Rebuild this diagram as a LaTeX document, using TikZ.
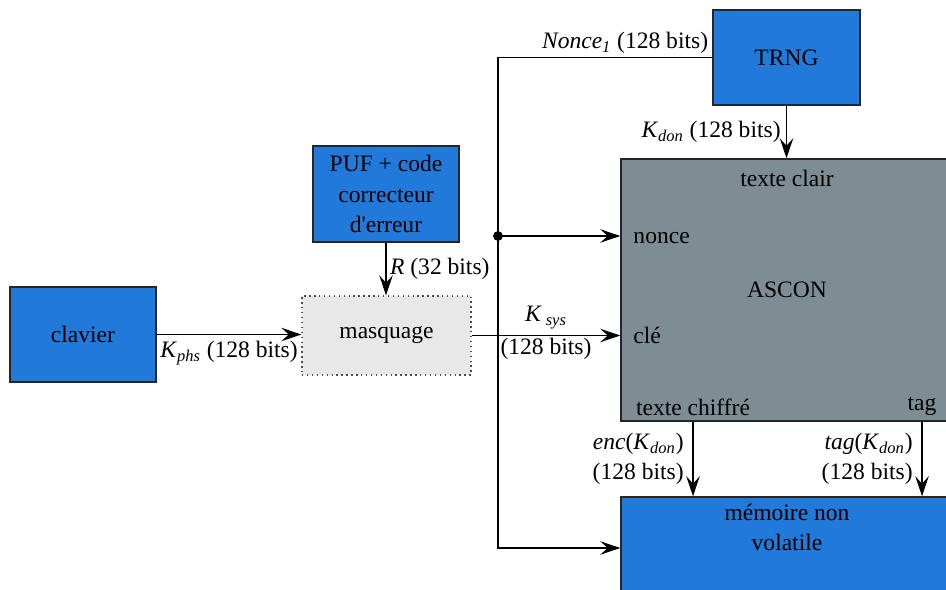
\documentclass[tikz,border=0pt]{standalone}
\usepackage{fontspec}
\setmainfont{Liberation Serif}
\newfontfamily\policeschema{Liberation Serif}
\usetikzlibrary{arrows.meta,positioning}
\definecolor{bleu}{RGB}{33,121,217}
\definecolor{grisascon}{RGB}{126,141,147}
\definecolor{grismasque}{RGB}{232,232,232}
\newcommand{\indice}[1]{\textsubscript{\textit{#1}}}
\tikzset{
  bloc/.style = {draw = black!85, line width = 0.9pt, fill = bleu, align = center},
  fleche/.style = {-{Stealth[length = 4mm, width = 2.7mm, inset = 1.5mm]}, line width = 0.7pt}
}
\begin{document}
\begin{tikzpicture}[x = 0.02cm, y = -0.02cm, every node/.style = {font = \policeschema\fontsize{13.4pt}{17.3pt}\selectfont}]
\clip (0,0) rectangle (946,590);
% blocs
\node[bloc, minimum width = 2.92cm, minimum height = 1.9cm] (clavier) at (83,334.5) {clavier};
\node[bloc, minimum width = 2.92cm, minimum height = 1.92cm] (puf) at (386,194) {PUF + code\\correcteur\\d\textquotesingle erreur};
\node[draw = black!70, dotted, line width = 0.8pt, fill = grismasque, minimum width = 3.38cm, minimum height = 1.58cm] (masquage) at (386.5,335.5) {masquage};
\node[bloc, minimum width = 2.94cm, minimum height = 1.9cm] (trng) at (786.5,57.5) {TRNG};
\node[draw = black!85, line width = 0.9pt, fill = grisascon, minimum width = 6.64cm, minimum height = 5.24cm] (ascon) at (787,290) {ASCON};
\node[bloc, minimum width = 6.64cm, minimum height = 2.04cm] (memoire) at (787,548) {};
\node[anchor = north, align = center, yshift = -1pt] (memtxt) at (memoire.north) {mémoire non\\volatile};
% ports de ASCON
\coordinate (bus) at (498,0);
\coordinate (split) at (498,236);
\node[anchor = north, yshift = -3pt] (clair) at (ascon.north) {texte clair};
\node[anchor = west, xshift = 4pt, yshift = -1pt] (nonce) at (split -| ascon.west) {nonce};
\node[anchor = west, xshift = 4pt] (cle) at (masquage.east -| ascon.west) {clé};
\node[anchor = south] (chiffre) at (ascon.south -| 693,0) {texte chiffré};
\node[anchor = south] (tagport) at (ascon.south -| 922,0) {tag};
% liaisons
\draw[fleche] (clavier.east) -- node[below] {\textit{K}\indice{phs} (128 bits)} (clavier.east -| masquage.west);
\draw[fleche] (puf.south) -- node[right, inner sep = 2pt] {\textit{R} (32 bits)} (puf.south |- masquage.north);
\draw[fleche] (masquage.east) -- node[above] {\textit{K}\,\indice{sys}} node[below, inner sep = 1pt] {(128 bits)} (masquage.east -| ascon.west);
\draw[fleche] (trng.west) node[above left, inner sep = 2pt] {\textit{Nonce}\indice{1} (128 bits)} -- (trng.west -| bus) -- (memoire.west -| bus) -- (memoire.west);
\fill (split) circle (2.8pt);
\draw[fleche] (split) -- (split -| ascon.west);
\draw[fleche] (trng.south) -- node[left, inner sep = 3pt] {\textit{K}\indice{don} (128 bits)} (trng.south |- ascon.north);
\draw[fleche] (chiffre.south) -- node[left, align = right, inner sep = 5pt] {\textit{enc}(\textit{K}\indice{don})\\(128 bits)} (chiffre.south |- memoire.north);
\draw[fleche] (tagport.south) -- node[left, align = right, inner sep = 5pt] {\textit{tag}(\textit{K}\indice{don})\\(128 bits)} (tagport.south |- memoire.north);
\end{tikzpicture}
\end{document}
